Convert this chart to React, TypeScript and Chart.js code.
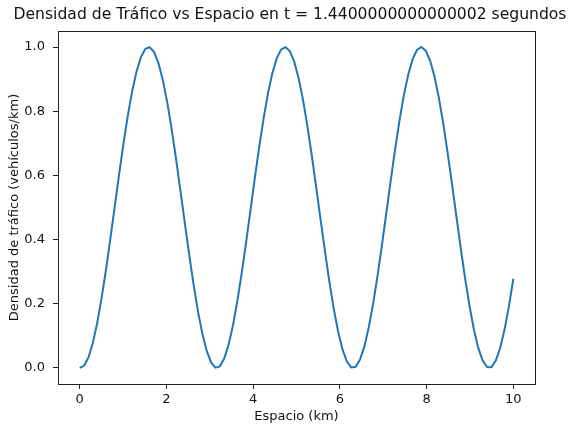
import React, { useEffect, useRef } from "react";
import { Chart, registerables } from "chart.js";

Chart.register(...registerables);

const TITLE = "Densidad de Tráfico vs Espacio en t = 1.4400000000000002 segundos";
const X_LABEL = "Espacio (km)";
const Y_LABEL = "Densidad de tráfico (vehículos/km)";

const xValues = [
  0, 0.101, 0.202, 0.303, 0.404, 0.5051, 0.6061, 0.7071, 0.8081, 0.9091,
  1.0101, 1.1111, 1.2121, 1.3131, 1.4141, 1.5152, 1.6162, 1.7172, 1.8182, 1.9192,
  2.0202, 2.1212, 2.2222, 2.3232, 2.4242, 2.5253, 2.6263, 2.7273, 2.8283, 2.9293,
  3.0303, 3.1313, 3.2323, 3.3333, 3.4343, 3.5354, 3.6364, 3.7374, 3.8384, 3.9394,
  4.0404, 4.1414, 4.2424, 4.3434, 4.4444, 4.5455, 4.6465, 4.7475, 4.8485, 4.9495,
  5.0505, 5.1515, 5.2525, 5.3535, 5.4545, 5.5556, 5.6566, 5.7576, 5.8586, 5.9596,
  6.0606, 6.1616, 6.2626, 6.3636, 6.4646, 6.5657, 6.6667, 6.7677, 6.8687, 6.9697,
  7.0707, 7.1717, 7.2727, 7.3737, 7.4747, 7.5758, 7.6768, 7.7778, 7.8788, 7.9798,
  8.0808, 8.1818, 8.2828, 8.3838, 8.4848, 8.5859, 8.6869, 8.7879, 8.8889, 8.9899,
  9.0909, 9.1919, 9.2929, 9.3939, 9.4949, 9.596, 9.697, 9.798, 9.899, 10,
];

const densityValues = [
  0.0004, 0.0066, 0.0328, 0.078, 0.1404, 0.2174, 0.3059, 0.4023, 0.5027, 0.6029,
  0.699, 0.787, 0.8633, 0.9249, 0.9691, 0.9943, 0.9994, 0.9841, 0.9492, 0.896,
  0.8267, 0.7441, 0.6516, 0.5529, 0.452, 0.3531, 0.2602, 0.1771, 0.107, 0.053,
  0.0171, 0.0009, 0.005, 0.0292, 0.0726, 0.1333, 0.209, 0.2965, 0.3922, 0.4924,
  0.5929, 0.6896, 0.7785, 0.8562, 0.9194, 0.9655, 0.9926, 0.9998, 0.9866, 0.9536,
  0.9022, 0.8344, 0.753, 0.6613, 0.5631, 0.4623, 0.363, 0.2693, 0.185, 0.1135,
  0.0577, 0.0199, 0.0016, 0.0036, 0.0258, 0.0673, 0.1264, 0.2007, 0.2871, 0.3822,
  0.4821, 0.5827, 0.68, 0.7699, 0.8489, 0.9137, 0.9616, 0.9908, 1.0, 0.9888,
  0.9578, 0.9082, 0.842, 0.7618, 0.671, 0.5733, 0.4725, 0.3729, 0.2785, 0.193,
  0.12, 0.0626, 0.0229, 0.0026, 0.0025, 0.0227, 0.0623, 0.1195, 0.1925, 0.2779,
];

const xTicks = [0, 2, 4, 6, 8, 10];
const yTicks = [0, 0.2, 0.4, 0.6, 0.8, 1.0];

const FONT = "'DejaVu Sans', sans-serif";

export default function App() {
  const ref = useRef<HTMLCanvasElement | null>(null);

  useEffect(() => {
    document.body.style.margin = "0";
    const canvas = ref.current;
    if (!canvas) return;

    const decor = {
      id: "decor",
      afterDraw(chart: any) {
        const { ctx, chartArea } = chart;
        const { left, right, top, bottom } = chartArea;
        ctx.save();
        ctx.strokeStyle = "#222";
        ctx.lineWidth = 1;
        ctx.strokeRect(Math.round(left) + 0.5, Math.round(top) + 0.5, Math.round(right - left), Math.round(bottom - top));
        ctx.fillStyle = "#111";
        ctx.textAlign = "center";
        ctx.textBaseline = "middle";
        ctx.font = `15.6px ${FONT}`;
        ctx.fillText(TITLE, 290, 15);
        ctx.font = `13px ${FONT}`;
        ctx.fillText(X_LABEL, (left + right) / 2, 417);
        ctx.translate(15, (top + bottom) / 2);
        ctx.rotate(-Math.PI / 2);
        ctx.fillText(Y_LABEL, 0, 0);
        ctx.restore();
      },
    };

    const chart = new Chart(canvas, {
      type: "line",
      data: {
        datasets: [
          {
            data: xValues.map((x, i) => ({ x, y: densityValues[i] })),
            borderColor: "#1f77b4",
            borderWidth: 2,
            pointRadius: 0,
            tension: 0,
            fill: false,
          },
        ],
      },
      options: {
        animation: false,
        responsive: false,
        layout: { padding: { left: 0, right: 45, top: 31, bottom: 0 } },
        plugins: { legend: { display: false }, title: { display: false }, tooltip: { enabled: false } },
        scales: {
          x: {
            type: "linear",
            min: -0.5,
            max: 10.5,
            afterBuildTicks: (axis: any) => {
              axis.ticks = xTicks.map((v) => ({ value: v }));
            },
            afterFit: (axis: any) => {
              axis.height = 46;
            },
            grid: { drawOnChartArea: false, drawTicks: true, tickLength: 5, tickColor: "#222", tickWidth: 1 },
            border: { display: false },
            ticks: {
              color: "#111",
              font: { family: FONT, size: 13 },
              padding: 3,
              maxRotation: 0,
              callback: (v: any) => String(v),
            },
          },
          y: {
            type: "linear",
            min: -0.05,
            max: 1.05,
            afterBuildTicks: (axis: any) => {
              axis.ticks = yTicks.map((v) => ({ value: v }));
            },
            afterFit: (axis: any) => {
              axis.width = 58;
            },
            grid: { drawOnChartArea: false, drawTicks: true, tickLength: 5, tickColor: "#222", tickWidth: 1 },
            border: { display: false },
            ticks: {
              color: "#111",
              font: { family: FONT, size: 13 },
              padding: 8,
              callback: (v: any) => Number(v).toFixed(1),
            },
          },
        },
      },
      plugins: [decor],
    });

    return () => chart.destroy();
  }, []);

  return (
    <div style={{ position: "fixed", left: 0, top: 0, width: 580, height: 430, background: "#fff" }}>
      <canvas ref={ref} width={580} height={430} />
    </div>
  );
}
